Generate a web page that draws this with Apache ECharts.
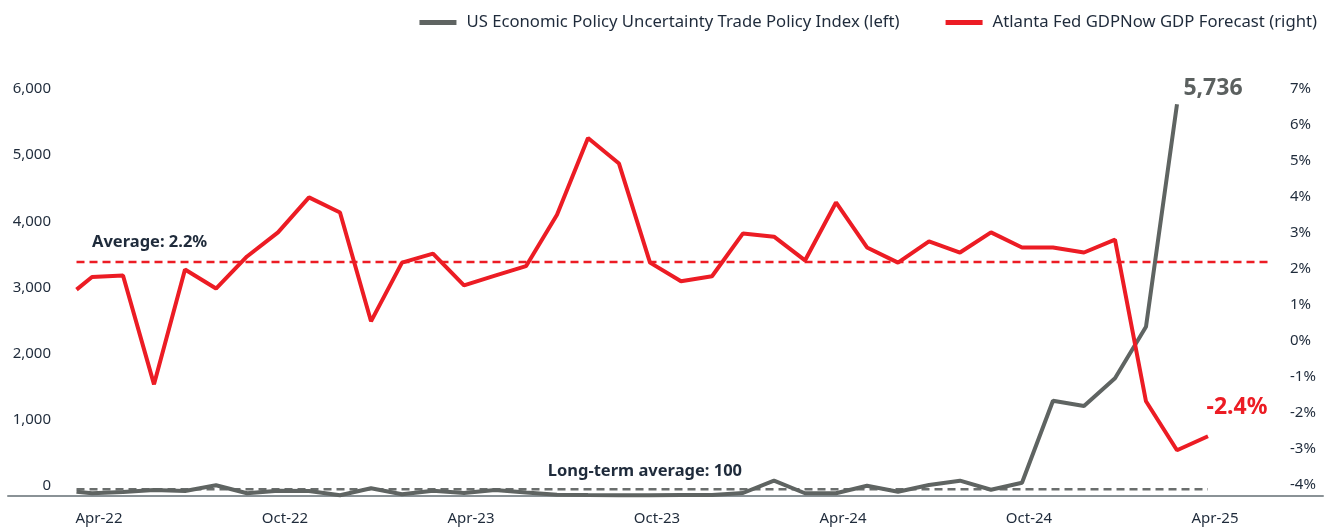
<!DOCTYPE html>
<html>
<head>
<meta charset="utf-8">
<script src="https://cdn.jsdelivr.net/npm/echarts@6/dist/echarts.min.js"></script>
<style>
  html, body { margin: 0; padding: 0; background: #fff; }
  #chart { width: 1338px; height: 527px; }
</style>
</head>
<body>
<div id="chart"></div>
<script>
// month number counted from Jan-22 (3 = Apr-22); first reading sits mid-March
let months = [2.5, 3, 4, 5, 6, 7, 8, 9, 10, 11, 12, 13, 14, 15, 16, 17, 18, 19, 20,
  21, 22, 23, 24, 25, 26, 27, 28, 29, 30, 31, 32, 33, 34, 35, 36, 37, 38, 39]

// Atlanta Fed GDPNow, % (right axis)
let gdpNow = [1.43, 1.78, 1.82, -1.20, 1.99, 1.46, 2.35, 3.02, 3.99, 3.57, 0.55, 2.18,
  2.43, 1.55, 1.82, 2.08, 3.51, 5.64, 4.93, 2.18, 1.66, 1.80, 2.99, 2.90, 2.24, 3.85,
  2.60, 2.18, 2.77, 2.46, 3.02, 2.60, 2.60, 2.46, 2.82, -1.67, -3.03, -2.64]

// EPU trade policy index (left axis)
let tradeEpu = [63, 40, 59, 88, 73, 157, 40, 78, 73, 10, 113, 25, 78, 44, 88, 51, 18,
  14, 12, 12, 14, 16, 44, 224, 40, 40, 151, 63, 161, 224, 92, 195, 1395, 1318, 1723,
  2479, 5736, null]

let gdpAvg = 2.2
let epuAvg = 100
let gdpAvgSpan = [2.5, 41]
let epuAvgSpan = [2.5, 39]

let tickMonths = [3, 9, 15, 21, 27, 33, 39]
let tickLabels = ['Apr-22', 'Oct-22', 'Apr-23', 'Oct-23', 'Apr-24', 'Oct-24', 'Apr-25']
let leftTicks = [0, 1000, 2000, 3000, 4000, 5000, 6000]
let rightTicks = [-4, -3, -2, -1, 0, 1, 2, 3, 4, 5, 6, 7]

let epuName = 'US Economic Policy Uncertainty Trade Policy Index (left)'
let gdpName = 'Atlanta Fed GDPNow GDP Forecast (right)'

let red = '#ec1c24'
let grey = '#5f6462'
let ink = '#1f2b3b'
let font = '"Noto Sans", "Open Sans", sans-serif'

let dom = document.getElementById('chart')
let myChart = echarts.init(dom)

let option = {
  animation: false,
  textStyle: { fontFamily: font },
  legend: {
    right: 16,
    top: 9,
    icon: 'rect',
    itemWidth: 37,
    itemHeight: 5,
    itemGap: 46,
    data: [epuName, gdpName],
    textStyle: { fontSize: 16.7, color: ink, padding: [0, 0, 0, 5] }
  },
  grid: { left: 8, right: 15, top: 89, bottom: 31 },
  xAxis: {
    type: 'value',
    min: 0.29,
    max: 42.71,
    axisLine: { onZero: false, lineStyle: { color: '#8a9296', width: 2 } },
    axisTick: { show: false },
    splitLine: { show: false },
    axisLabel: {
      customValues: tickMonths,
      formatter: v => tickLabels[tickMonths.indexOf(v)],
      fontSize: 15,
      color: ink,
      margin: 15,
      padding: [0, 0, 0, 14]
    }
  },
  yAxis: [
    {
      type: 'value',
      position: 'left',
      min: -150,
      max: 6000,
      axisLine: { show: false },
      axisTick: { show: false },
      splitLine: { show: false },
      axisLabel: {
        inside: true,
        align: 'right',
        margin: 43,
        customValues: leftTicks,
        formatter: v => v.toLocaleString('en-US'),
        fontSize: 15,
        color: ink
      }
    },
    {
      type: 'value',
      position: 'right',
      min: -4.3,
      max: 7,
      axisLine: { show: false },
      axisTick: { show: false },
      splitLine: { show: false },
      axisLabel: {
        inside: true,
        align: 'left',
        margin: 33,
        customValues: rightTicks,
        formatter: v => v + '%',
        fontSize: 15,
        color: ink
      }
    },
    {
      // the plotted index sits on its own hidden scale, as in the source chart
      type: 'value',
      show: false,
      min: 0,
      max: 5960
    }
  ],
  series: [
    {
      name: 'gdpAvg',
      type: 'line',
      yAxisIndex: 1,
      silent: true,
      symbol: 'none',
      data: gdpAvgSpan.map(m => [m, gdpAvg]),
      lineStyle: { color: red, width: 2.5, type: [8, 5] },
      z: 1
    },
    {
      name: 'epuAvg',
      type: 'line',
      yAxisIndex: 2,
      silent: true,
      symbol: 'none',
      data: epuAvgSpan.map(m => [m, epuAvg]),
      lineStyle: { color: '#6a6e6d', width: 2.5, type: [8, 5] },
      z: 1
    },
    {
      name: epuName,
      type: 'line',
      yAxisIndex: 2,
      symbol: 'none',
      data: months.map((m, i) => [m, tradeEpu[i]]),
      itemStyle: { color: grey },
      lineStyle: { color: grey, width: 4 },
      z: 3
    },
    {
      name: gdpName,
      type: 'line',
      yAxisIndex: 1,
      symbol: 'none',
      data: months.map((m, i) => [m, gdpNow[i]]),
      itemStyle: { color: red },
      lineStyle: { color: red, width: 4 },
      z: 4
    }
  ]
}

myChart.setOption(option, true)

// annotations placed from data coordinates
let px = (yIdx, pt) => myChart.convertToPixel({ xAxisIndex: 0, yAxisIndex: yIdx }, pt)
let lastEpu = tradeEpu.filter(v => v != null)
let epuEnd = px(2, [months[lastEpu.length - 1], lastEpu[lastEpu.length - 1]])
let gdpEnd = px(1, [months[months.length - 1], gdpNow[gdpNow.length - 1]])
let avgAt = px(1, [3, gdpAvg])
let ltAt = px(2, [17.7, epuAvg])

let note = (text, x, y, size, color, align) => ({
  type: 'text',
  silent: true,
  style: {
    text: text, x: x, y: y,
    font: 'bold ' + size + 'px ' + font,
    fill: color,
    align: align, textAlign: align,
    verticalAlign: 'middle', textVerticalAlign: 'middle'
  }
})

myChart.setOption({
  graphic: [
    note('5,736', epuEnd[0] + 36, epuEnd[1] - 16, 23, '#5b605f', 'center'),
    note('-2.4%', gdpEnd[0] + 29, gdpEnd[1] - 29, 23, red, 'center'),
    note('Average: ' + gdpAvg + '%', avgAt[0], avgAt[1] - 20, 16.5, ink, 'left'),
    note('Long-term average: ' + epuAvg, ltAt[0], ltAt[1] - 18, 16.5, ink, 'left')
  ]
})

window.addEventListener('resize', function () {
  myChart.resize()
})
</script>
</body>
</html>
